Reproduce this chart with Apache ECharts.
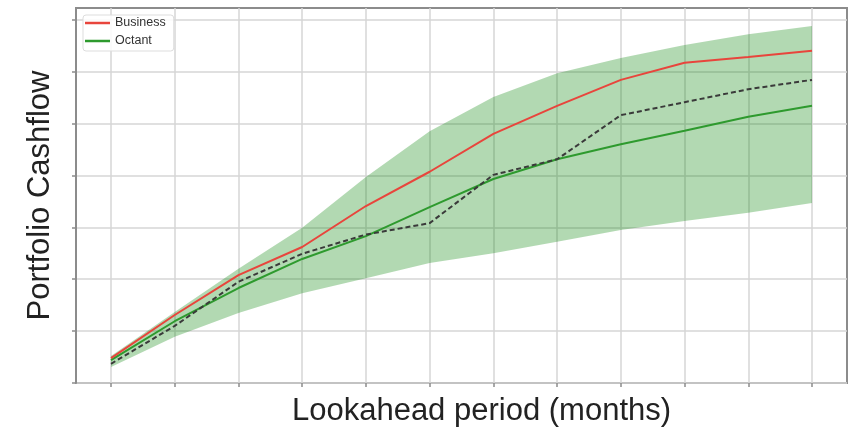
<!DOCTYPE html>
<html>
<head>
<meta charset="utf-8">
<script src="https://cdn.jsdelivr.net/npm/echarts@6/dist/echarts.min.js"></script>
<style>
html,body{margin:0;padding:0;background:#fff;}
#c{width:856px;height:427px;}
</style>
</head>
<body>
<div id="c"></div>
<script>
// Lookahead periods (months) - tick positions, labels are not shown in the picture
const periods = ['1','2','3','4','5','6','7','8','9','10','11','12'];
// Series (arbitrary cashflow units)
const business = [0.48, 1.31, 2.08, 2.62, 3.41, 4.07, 4.80, 5.34, 5.84, 6.17, 6.28, 6.40];
const octant   = [0.44, 1.19, 1.83, 2.39, 2.83, 3.39, 3.93, 4.31, 4.60, 4.86, 5.13, 5.34];
const actual   = [0.37, 1.10, 1.95, 2.49, 2.86, 3.08, 4.01, 4.31, 5.16, 5.41, 5.66, 5.84];
const bandUpper = [0.52, 1.37, 2.20, 2.99, 3.97, 4.85, 5.51, 5.97, 6.26, 6.51, 6.72, 6.88];
const bandLower = [0.31, 0.89, 1.35, 1.73, 2.02, 2.31, 2.50, 2.72, 2.95, 3.12, 3.28, 3.47];
const yTicks = [0, 1, 2, 3, 4, 5, 6, 7];
const yMax = 7.225;

const bandWidth = bandUpper.map((u, i) => +(u - bandLower[i]).toFixed(3));
const FONT = '"Liberation Sans", Arial, sans-serif';

const chart = echarts.init(document.getElementById('c'), null, {renderer: 'canvas'});
chart.setOption({
  animation: false,
  backgroundColor: '#ffffff',
  textStyle: {fontFamily: FONT},
  grid: [
    {left: 111, right: 44, top: 8, bottom: 44, show: false, containLabel: false, outerBoundsMode: 'none'},
    {left: 76, right: 9, top: 8, bottom: 44, show: true, containLabel: false, outerBoundsMode: 'none',
     borderColor: '#8c8c8c', borderWidth: 2, backgroundColor: 'transparent'}
  ],
  legend: {
    data: ['Business', 'Octant'],
    orient: 'vertical',
    left: 83, top: 15,
    padding: [1, 8, 3, 2],
    itemGap: 4,
    itemWidth: 25, itemHeight: 2.5,
    icon: 'rect',
    borderColor: '#dddddd', borderWidth: 1, borderRadius: 3,
    backgroundColor: 'rgba(255,255,255,0.85)',
    textStyle: {fontFamily: FONT, fontSize: 12.5, color: '#333', lineHeight: 14}
  },
  xAxis: [
    {
      type: 'category', gridIndex: 0, data: periods, boundaryGap: false,
      name: 'Lookahead period (months)', nameLocation: 'middle', nameGap: 13,
      nameTextStyle: {fontFamily: FONT, fontSize: 31, color: '#222', padding: [0, 0, 0, 40]},
      axisLine: {show: false},
      axisTick: {show: true, length: 4, interval: 0, lineStyle: {color: '#8c8c8c', width: 1.5}},
      axisLabel: {show: false},
      splitLine: {show: true, interval: 0, lineStyle: {color: '#d6d6d6', width: 1.5}}
    },
    {
      type: 'value', gridIndex: 1, min: 0, max: 1, show: false
    }
  ],
  yAxis: [
    {type: 'value', gridIndex: 0, min: 0, max: yMax, interval: 1, show: false},
    {
      type: 'value', gridIndex: 1, min: 0, max: yMax, interval: 1,
      name: 'Portfolio Cashflow', nameLocation: 'middle', nameGap: 20, nameRotate: 90,
      nameTextStyle: {fontFamily: FONT, fontSize: 31, color: '#222'},
      axisLine: {show: true, lineStyle: {color: '#8c8c8c', width: 2}},
      axisTick: {show: true, length: 4, customValues: yTicks, lineStyle: {color: '#8c8c8c', width: 1.5}},
      axisLabel: {show: false},
      splitLine: {show: true, lineStyle: {color: '#d6d6d6', width: 1.5}}
    }
  ],
  series: [
    {
      name: 'bandLower', type: 'line', xAxisIndex: 0, yAxisIndex: 0,
      data: bandLower, stack: 'band', symbol: 'none', silent: true,
      lineStyle: {opacity: 0}, z: 1
    },
    {
      name: 'bandWidth', type: 'line', xAxisIndex: 0, yAxisIndex: 0,
      data: bandWidth, stack: 'band', symbol: 'none', silent: true,
      lineStyle: {opacity: 0}, areaStyle: {color: 'rgba(0,128,0,0.3)', opacity: 1}, z: 1
    },
    {
      name: 'Octant', type: 'line', xAxisIndex: 0, yAxisIndex: 0,
      data: octant, symbol: 'none', color: '#2e9a2e',
      lineStyle: {color: '#2e9a2e', width: 2}, z: 3
    },
    {
      name: 'Business', type: 'line', xAxisIndex: 0, yAxisIndex: 0,
      data: business, symbol: 'none', color: '#e8453c',
      lineStyle: {color: '#e8453c', width: 2}, z: 4
    },
    {
      name: 'Actual', type: 'line', xAxisIndex: 0, yAxisIndex: 0,
      data: actual, symbol: 'none', color: '#3a3a3a',
      lineStyle: {color: '#3a3a3a', width: 2, type: [5, 3]}, z: 5
    }
  ]
});
</script>
</body>
</html>
